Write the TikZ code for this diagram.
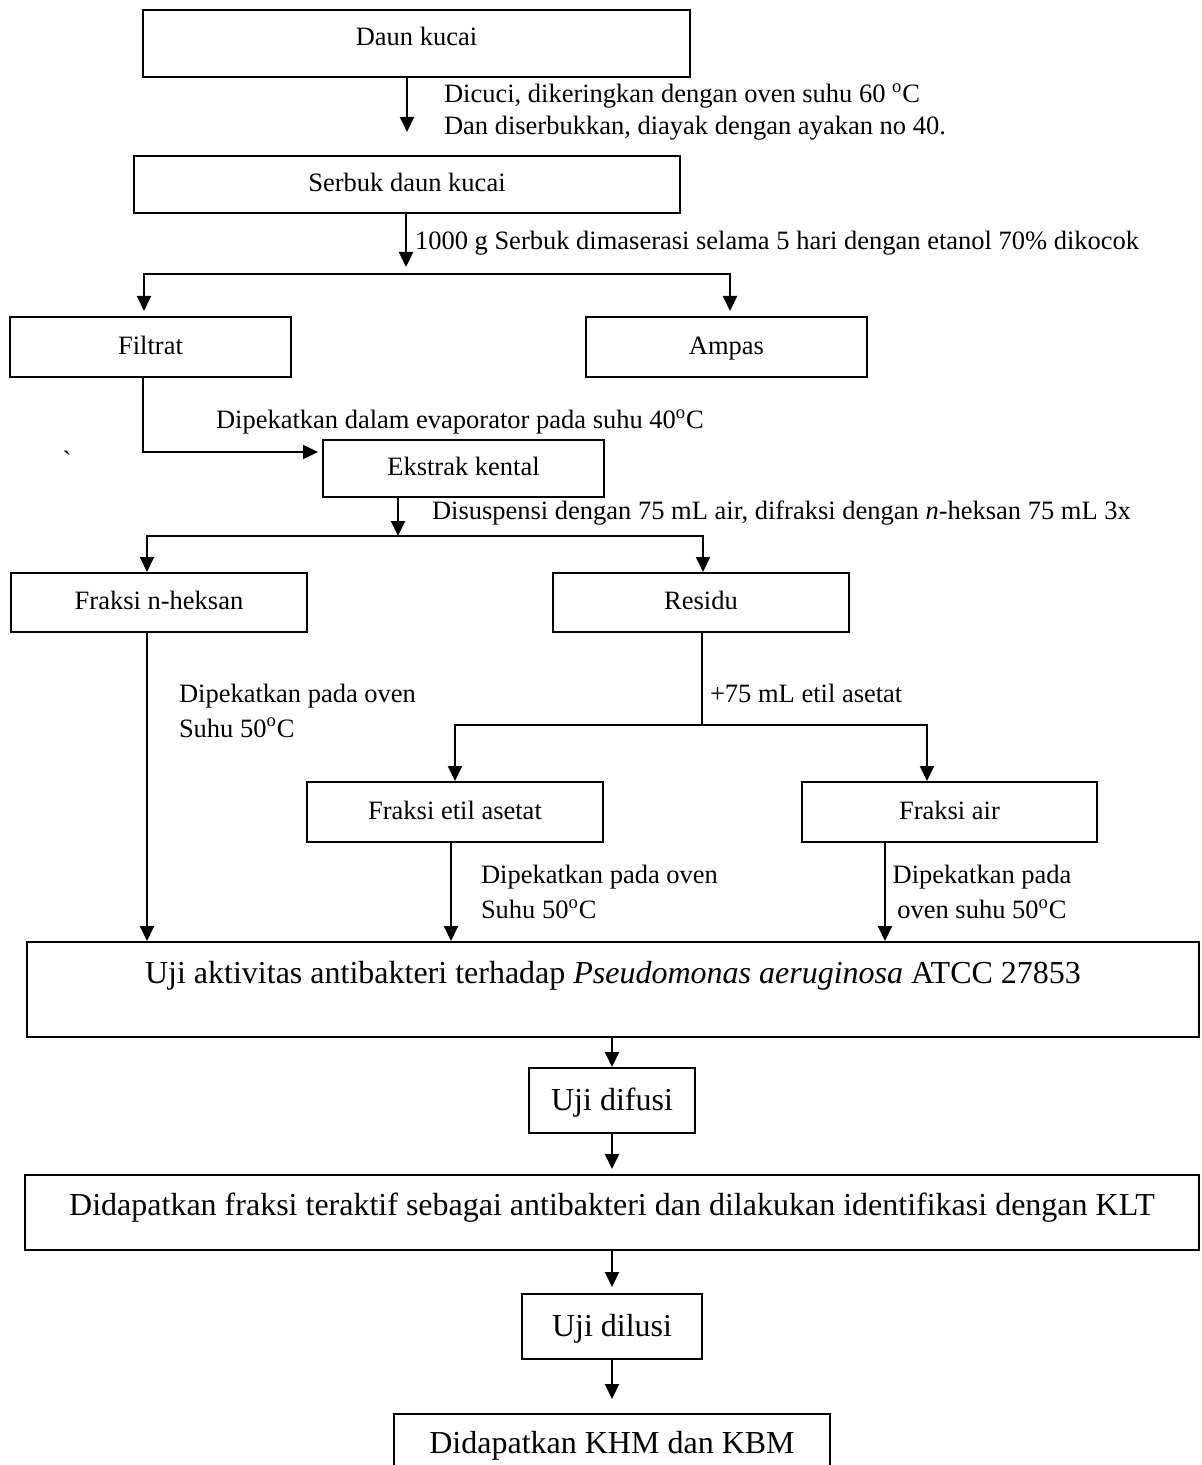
\documentclass[tikz,border=0pt]{standalone}
\usepackage{fontspec}
\setmainfont{Liberation Serif}
\usetikzlibrary{arrows.meta}

\newcommand{\kecil}{\fontsize{13.25}{17.5}\selectfont}
\newcommand{\besar}{\fontsize{16}{19}\selectfont}
\tikzset{kotak/.style={draw,inner sep=0pt,align=center,text height=9pt,text depth=1.8pt},
  kotakbesar/.style={kotak,font=\besar,text height=11.5pt,text depth=1.5pt},
  panah/.style={-{Triangle[length=7.5pt,width=7pt]}},
  ket/.style={inner sep=0pt,align=left}}

\begin{document}
\begin{tikzpicture}[x=0.5pt,y=-0.5pt,line width=1pt,font=\kecil]
      %  \draw[help lines] (0,0) grid[step=100] (1202,1465);
        \useasboundingbox (0,0) rectangle (1202,1465);
        % kotak
        \node[kotak,minimum width=273.5pt,minimum height=33.5pt,text depth=6.85pt] (daun) at (416.5,43.5) {Daun kucai};
        \node[kotak,minimum width=273pt,minimum height=28.5pt] (serbuk) at (407,184.5) {Serbuk daun kucai};
        \node[kotak,minimum width=140.5pt,minimum height=30pt] (filtrat) at (150.5,347) {Filtrat};
        \node[kotak,minimum width=140.5pt,minimum height=30pt] (ampas) at (726.5,347) {Ampas};
        \node[kotak,minimum width=140.5pt,minimum height=28.5pt] (ekstrak) at (463.5,468.5) {Ekstrak kental};
        \node[kotak,minimum width=148pt,minimum height=29.5pt] (nheksan) at (159,602.5) {Fraksi n-heksan};
        \node[kotak,minimum width=148pt,minimum height=29.5pt] (residu) at (701,602.5) {Residu};
        \node[kotak,minimum width=148pt,minimum height=30pt] (etil) at (455,812) {Fraksi etil asetat};
        \node[kotak,minimum width=147.5pt,minimum height=30pt] (air) at (949.5,812) {Fraksi air};
        \node[kotakbesar,minimum width=586pt,minimum height=47.5pt,text depth=17.3pt] (uji) at (613,989.5)
          {Uji aktivitas antibakteri terhadap \textit{Pseudomonas aeruginosa} ATCC 27853};
        \node[kotakbesar,minimum width=83pt,minimum height=32.5pt] (difusi) at (612,1100.5) {Uji difusi};
        \node[kotakbesar,minimum width=587pt,minimum height=37.5pt,text depth=8.3pt] (fraksi) at (612,1212.5)
          {Didapatkan fraksi teraktif sebagai antibakteri dan dilakukan identifikasi dengan KLT};
        \node[kotakbesar,minimum width=90pt,minimum height=32.5pt] (dilusi) at (612,1326.5) {Uji dilusi};
        \node[kotakbesar,minimum width=218pt,minimum height=35pt,text depth=6.6pt] (khm) at (612,1449) {Didapatkan KHM dan KBM};
        % keterangan
        \node[ket,anchor=west,font=\fontsize{13.25}{16}\selectfont] (ket1) at (443,112)
          {Dicuci, dikeringkan dengan oven suhu 60 \textsuperscript{o}C\\Dan diserbukkan, diayak dengan ayakan no 40.};
        \node[ket,anchor=west] (ket2) at (414,243) {1000 g Serbuk dimaserasi selama 5 hari dengan etanol 70\% dikocok};
        \node[ket,anchor=west] (ket3) at (215,422) {Dipekatkan dalam evaporator pada suhu 40\textsuperscript{o}C};
        \node[ket] (tanda) at (67,460) {\textasciigrave};
        \node[ket,anchor=west] (ket4) at (431,513) {Disuspensi dengan 75 mL air, difraksi dengan \textit{n}-heksan 75 mL 3x};
        \node[ket,anchor=west] (ket5) at (178,710.5) {Dipekatkan pada oven\\Suhu 50\textsuperscript{o}C};
        \node[ket,anchor=west] (ket6) at (709,693) {+75 mL etil asetat};
        \node[ket,anchor=west] (ket7) at (480,892) {Dipekatkan pada oven\\Suhu 50\textsuperscript{o}C};
        \node[ket,align=center] (ket8) at (982,892) {Dipekatkan pada\\oven suhu 50\textsuperscript{o}C};
        % cabang
        \coordinate (pisah1) at (406,274);
        \coordinate (pisah2) at (398,536);
        \coordinate (pisah3) at (702,725);
        % panah
        \draw[panah,shorten >=11.5pt] (daun.south -| serbuk.north) -- (serbuk.north);
        \draw[panah,shorten >=3.5pt] (serbuk.south -| pisah1) -- (pisah1);
        \draw[panah,shorten >=2.5pt] (pisah1) -| ([xshift=-3.25pt]filtrat.north);
        \draw[panah,shorten >=2.5pt] (pisah1) -| ([xshift=1.75pt]ampas.north);
        \draw[panah,shorten >=2pt] ([xshift=-3.75pt]filtrat.south) |- ([yshift=8.25pt]ekstrak.west);
        \draw[panah] (ekstrak.south -| pisah2) -- (pisah2);
        \draw[panah] (pisah2) -| ([xshift=-6pt]nheksan.north);
        \draw[panah] (pisah2) -| ([xshift=1pt]residu.north);
        \draw (residu.south -| pisah3) -- (pisah3);
        \draw[panah] (pisah3) -| (etil.north);
        \draw[panah] (pisah3) -| ([xshift=-11.25pt]air.north);
        \foreach \n/\s in {nheksan/-6pt,etil/-2pt,air/-32.25pt}
          \draw[panah] ([xshift=\s]\n.south) -- ([xshift=\s]\n.south |- uji.north);
        \foreach \a/\b/\s in {uji/difusi/0pt,difusi/fraksi/2.5pt,fraksi/dilusi/3pt,dilusi/khm/7pt}
          \draw[panah,shorten >=\s] (\a.south -| \b.north) -- (\b.north);
      \end{tikzpicture}
\end{document}
